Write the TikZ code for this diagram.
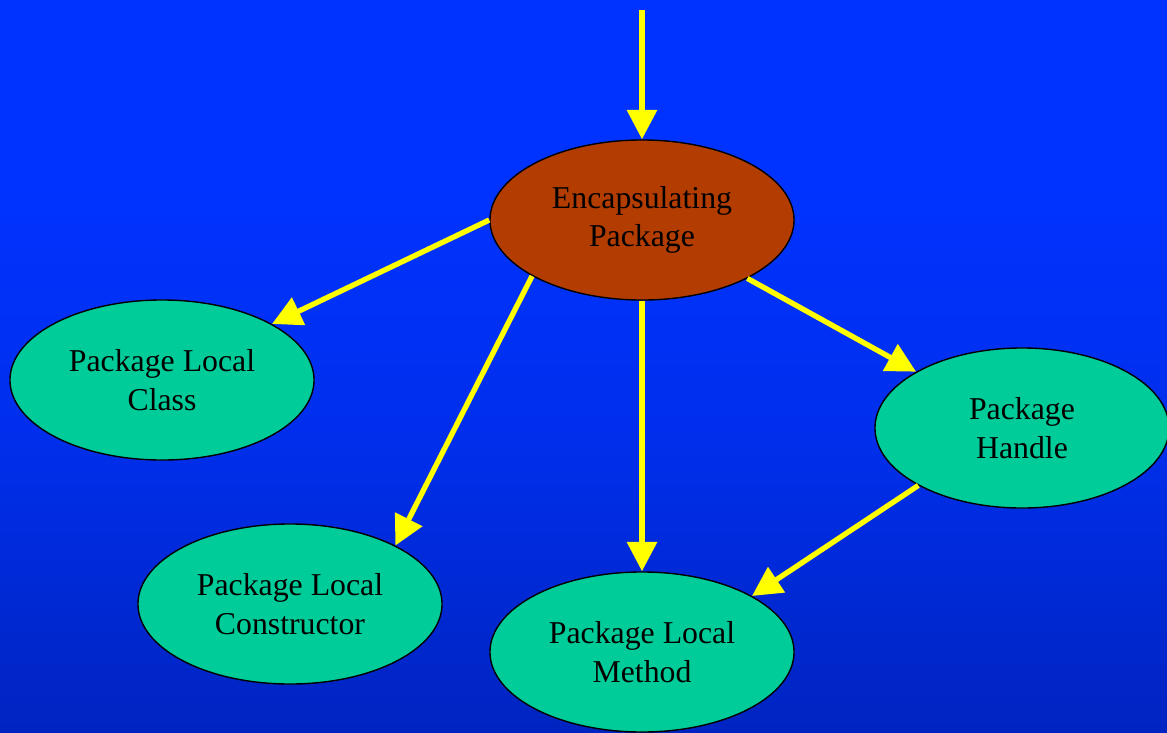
\documentclass[tikz,border=0pt]{standalone}
\usepackage{fontspec}
\setmainfont{Liberation Serif}
\usetikzlibrary{shapes.geometric,arrows.meta}
\definecolor{bgtop}{RGB}{0,48,220}
\definecolor{bgmid}{RGB}{0,51,255}
\definecolor{bgmid2}{RGB}{0,46,235}
\definecolor{bgbot}{RGB}{0,24,140}
\definecolor{encfill}{RGB}{179,60,0}
\definecolor{leaffill}{RGB}{0,204,153}
\definecolor{arrowyellow}{RGB}{255,255,0}
\pgfdeclareverticalshading{bgshade}{100bp}{color(0bp)=(bgbot); color(45bp)=(bgmid2); color(62bp)=(bgmid); color(85bp)=(bgmid); color(100bp)=(bgtop)}
\begin{document}
\begin{tikzpicture}[x=0.025cm,y=-0.025cm,
  blob/.style={ellipse, draw=black, line width=1pt, inner sep=0pt,
    minimum width=7.6cm, minimum height=4cm, align=center,
    font=\fontsize{22.6}{27.5}\selectfont, text=black},
  enc/.style={blob, fill=encfill},
  leaf/.style={blob, fill=leaffill},
  conn/.style={draw=arrowyellow, line width=3.8pt,
    -{Triangle[length=21pt,width=21pt]}, arrowyellow}]
\useasboundingbox (0,0) rectangle (1167,732);
\shade[shading=bgshade] (0,0) rectangle (1167,732);
\node[enc]  (encap)  at (642,220) {Encapsulating\\Package};
\node[leaf] (class)  at (162,380) {Package Local\\Class};
\node[leaf, minimum width=7.35cm] (handle) at (1022,428) {Package\\Handle};
\node[leaf] (ctor)   at (290,604) {Package Local\\Constructor};
\node[leaf] (method) at (642,652) {Package Local\\Method};
\coordinate (top) at (642,10);
\draw[conn] (top) -- (encap.north);
\draw[conn] (encap.180) -- (class.27);
\draw[conn] (encap.207) -- (ctor.29);
\draw[conn] (encap.south) -- (method.north);
\draw[conn] (encap.331) -- (handle.152);
\draw[conn] (handle.209) -- (method.27);
\end{tikzpicture}
\end{document}
